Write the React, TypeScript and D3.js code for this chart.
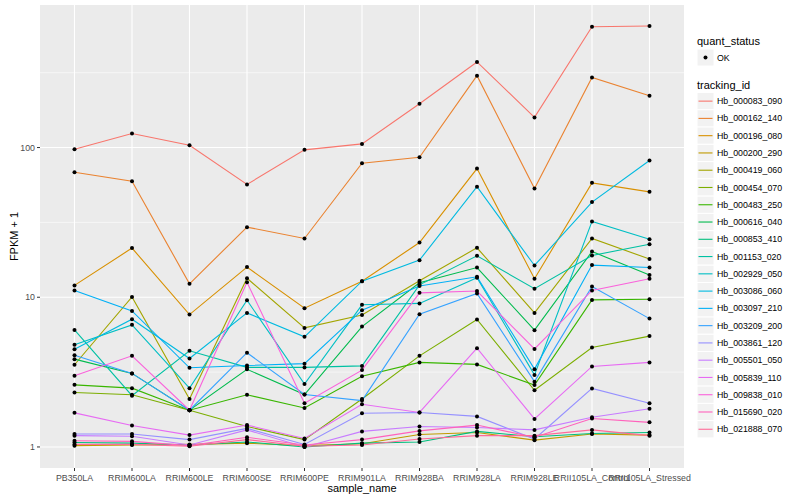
import * as d3 from "d3";
import React, { RefObject, useEffect, useRef } from "react";

const samples = [
  "PB350LA",
  "RRIM600LA",
  "RRIM600LE",
  "RRIM600SE",
  "RRIM600PE",
  "RRIM901LA",
  "RRIM928BA",
  "RRIM928LA",
  "RRIM928LE",
  "RRII105LA_Control",
  "RRII105LA_Stressed",
];

const trackingIds = [
  "Hb_000083_090",
  "Hb_000162_140",
  "Hb_000196_080",
  "Hb_000200_290",
  "Hb_000419_060",
  "Hb_000454_070",
  "Hb_000483_250",
  "Hb_000616_040",
  "Hb_000853_410",
  "Hb_001153_020",
  "Hb_002929_050",
  "Hb_003086_060",
  "Hb_003097_210",
  "Hb_003209_200",
  "Hb_003861_120",
  "Hb_005501_050",
  "Hb_005839_110",
  "Hb_009838_010",
  "Hb_015690_020",
  "Hb_021888_070",
];

// FPKM + 1, one array per tracking_id, in sample order
const hb000083 = [97.4, 124, 103.6, 56.7, 96.5, 105.8, 196, 373, 159, 641, 648];
const hb000162 = [68.4, 59.6, 12.3, 29.4, 24.7, 78.6, 86.2, 302, 53.3, 294, 222];
const hb000196 = [12.0, 21.3, 7.66, 15.9, 8.45, 12.8, 23.2, 72.4, 13.3, 58.1, 50.6];
const hb000200 = [1.02, 1.03, 1.04, 1.06, 1.02, 1.05, 1.21, 1.25, 1.11, 1.22, 1.2];
const hb000419 = [3.54, 10.05, 2.09, 13.4, 6.24, 7.62, 12.9, 21.4, 7.86, 24.7, 18.0];
const hb000454 = [2.31, 2.23, 1.76, 1.37, 1.12, 2.09, 4.06, 7.1, 2.39, 4.62, 5.5];
const hb000483 = [2.6, 2.47, 1.76, 2.23, 1.82, 2.97, 3.67, 3.56, 2.59, 9.6, 9.7];
const hb000616 = [3.86, 3.1, 1.76, 3.3, 2.24, 6.37, 12.5, 15.8, 6.03, 20.2, 14.1];
const hb000853 = [1.07, 1.06, 1.03, 1.08, 1.0, 1.06, 1.08, 1.27, 1.17, 1.23, 1.25];
const hb001153 = [6.05, 2.2, 4.39, 3.4, 3.4, 3.48, 12.1, 18.9, 11.4, 19.0, 22.6];
const hb002929 = [4.81, 6.54, 2.47, 9.55, 2.63, 8.9, 9.1, 13.5, 3.03, 32.1, 24.4];
const hb003086 = [4.5, 7.13, 3.9, 7.86, 5.44, 12.8, 17.7, 54.7, 16.3, 43.2, 81.9];
const hb003097 = [11.1, 8.1, 3.38, 3.5, 3.6, 8.2, 11.9, 13.7, 3.31, 16.4, 15.8];
const hb003209 = [4.1, 3.1, 1.76, 4.26, 2.24, 2.04, 7.7, 10.6, 2.73, 11.8, 7.2];
const hb003861 = [1.22, 1.22, 1.12, 1.33, 1.04, 1.68, 1.7, 1.6, 1.13, 2.46, 1.96];
const hb005501 = [1.19, 1.18, 1.03, 1.3, 1.0, 1.27, 1.37, 1.35, 1.3, 1.58, 1.8];
const hb005839 = [1.69, 1.39, 1.2, 1.4, 1.14, 1.93, 1.7, 4.57, 1.54, 3.45, 3.67];
const hb009838 = [2.99, 4.06, 1.76, 12.6, 1.96, 3.26, 10.7, 11.0, 4.52, 11.1, 13.3];
const hb015690 = [1.1, 1.09, 1.02, 1.16, 1.03, 1.12, 1.28, 1.4, 1.16, 1.55, 1.46];
const hb021888 = [1.04, 1.04, 1.01, 1.12, 1.01, 1.03, 1.13, 1.19, 1.19, 1.3, 1.19];

const seriesValues = [
  hb000083, hb000162, hb000196, hb000200, hb000419, hb000454, hb000483,
  hb000616, hb000853, hb001153, hb002929, hb003086, hb003097, hb003209,
  hb003861, hb005501, hb005839, hb009838, hb015690, hb021888,
];

const yTicks = [1, 10, 100];
const yMinor = [Math.sqrt(10), Math.sqrt(1000), Math.sqrt(100000)];

// R's hcl() (polar LUV) -> hex, the way ggplot builds its default hue palette
const hclHex = (h: number, c: number, l: number) => {
  const hr = (h * Math.PI) / 180;
  const U = c * Math.cos(hr);
  const V = c * Math.sin(hr);
  const Y = 100 * (l > 7.999592 ? Math.pow((l + 16) / 116, 3) : l / 903.3);
  const u = U / (13 * l) + 0.1978398;
  const v = V / (13 * l) + 0.4683363;
  const X = (9 * Y * u) / (4 * v);
  const Z = -X / 3 - 5 * Y + (3 * Y) / v;
  const gam = (t: number) =>
    t > 0.00304 ? 1.055 * Math.pow(t, 1 / 2.4) - 0.055 : 12.92 * t;
  const r = gam((3.240479 * X - 1.53715 * Y - 0.498535 * Z) / 100);
  const g = gam((-0.969256 * X + 1.875992 * Y + 0.041556 * Z) / 100);
  const b = gam((0.055648 * X - 0.204043 * Y + 1.057311 * Z) / 100);
  const cl = (t: number) => Math.round(Math.max(0, Math.min(1, t)) * 255);
  return d3.rgb(cl(r), cl(g), cl(b)).formatHex();
};

const huePal = (n: number) =>
  d3.range(n).map((i) => hclHex(15 + (360 / n) * i, 100, 65));

const Chart = ({ width = 800, height = 500 }) => {
  const d3Ref: RefObject<HTMLDivElement> = useRef(null);

  useEffect(() => {
    const root = d3.select(d3Ref.current);
    root.selectAll("*").remove();
    const svg = root
      .append("svg")
      .attr("width", width)
      .attr("height", height)
      .style("position", "absolute")
      .style("left", "0px")
      .style("top", "0px")
      .style("background", "#fff")
      .style("font-family", "'Liberation Sans', Arial, sans-serif");

    const panel = { left: 40, right: 684, top: 5, bottom: 468 };
    const colors = huePal(trackingIds.length);

    const allVals = seriesValues.flat();
    const [lo, hi] = d3.extent(allVals.map((v) => Math.log10(v))) as [number, number];
    const pad = (hi - lo) * 0.05;

    const x = d3
      .scalePoint<string>()
      .domain(samples)
      .range([panel.left, panel.right])
      .padding(0.6);
    const y = d3
      .scaleLog()
      .domain([Math.pow(10, lo - pad), Math.pow(10, hi + pad)])
      .range([panel.bottom, panel.top]);

    svg
      .append("rect")
      .attr("x", panel.left)
      .attr("y", panel.top)
      .attr("width", panel.right - panel.left)
      .attr("height", panel.bottom - panel.top)
      .attr("fill", "#EBEBEB");

    const grid = svg.append("g");
    grid
      .selectAll("line.minor")
      .data(yMinor)
      .enter()
      .append("line")
      .attr("x1", panel.left)
      .attr("x2", panel.right)
      .attr("y1", (d) => y(d))
      .attr("y2", (d) => y(d))
      .attr("stroke", "#fff")
      .attr("stroke-width", 0.55);
    grid
      .selectAll("line.major")
      .data(yTicks)
      .enter()
      .append("line")
      .attr("x1", panel.left)
      .attr("x2", panel.right)
      .attr("y1", (d) => y(d))
      .attr("y2", (d) => y(d))
      .attr("stroke", "#fff")
      .attr("stroke-width", 1.1);
    grid
      .selectAll("line.vert")
      .data(samples)
      .enter()
      .append("line")
      .attr("x1", (d) => x(d) as number)
      .attr("x2", (d) => x(d) as number)
      .attr("y1", panel.top)
      .attr("y2", panel.bottom)
      .attr("stroke", "#fff")
      .attr("stroke-width", 1.1);

    const line = d3
      .line<number>()
      .x((d, i) => x(samples[i]) as number)
      .y((d) => y(d));

    const g = svg.append("g");
    seriesValues.forEach((s, i) => {
      g.append("path")
        .datum(s)
        .attr("fill", "none")
        .attr("stroke", colors[i])
        .attr("stroke-width", 1.1)
        .attr("d", line);
    });
    seriesValues.forEach((s) => {
      g.selectAll(null)
        .data(s)
        .enter()
        .append("circle")
        .attr("cx", (d, k) => x(samples[k]) as number)
        .attr("cy", (d) => y(d))
        .attr("r", 2)
        .attr("fill", "#000");
    });

    // y axis
    const ya = svg.append("g");
    ya.selectAll("line")
      .data(yTicks)
      .enter()
      .append("line")
      .attr("x1", panel.left - 3)
      .attr("x2", panel.left)
      .attr("y1", (d) => y(d))
      .attr("y2", (d) => y(d))
      .attr("stroke", "#333")
      .attr("stroke-width", 1);
    ya.selectAll("text")
      .data(yTicks)
      .enter()
      .append("text")
      .attr("x", panel.left - 5)
      .attr("y", (d) => y(d))
      .attr("dy", "0.35em")
      .attr("text-anchor", "end")
      .attr("font-size", 8.8)
      .attr("fill", "#4D4D4D")
      .text((d) => String(d));

    // x axis
    const xa = svg.append("g");
    xa.selectAll("line")
      .data(samples)
      .enter()
      .append("line")
      .attr("x1", (d) => x(d) as number)
      .attr("x2", (d) => x(d) as number)
      .attr("y1", panel.bottom)
      .attr("y2", panel.bottom + 3)
      .attr("stroke", "#333")
      .attr("stroke-width", 1);
    xa.selectAll("text")
      .data(samples)
      .enter()
      .append("text")
      .attr("x", (d) => x(d) as number)
      .attr("y", panel.bottom + 13)
      .attr("text-anchor", "middle")
      .attr("font-size", 8.8)
      .attr("fill", "#4D4D4D")
      .text((d) => d);

    svg
      .append("text")
      .attr("x", (panel.left + panel.right) / 2)
      .attr("y", 492)
      .attr("text-anchor", "middle")
      .attr("font-size", 11)
      .text("sample_name");
    svg
      .append("text")
      .attr("transform", `translate(14, ${(panel.top + panel.bottom) / 2}) rotate(-90)`)
      .attr("dy", "0.35em")
      .attr("text-anchor", "middle")
      .attr("font-size", 11)
      .text("FPKM + 1");

    // legends
    const lg = svg.append("g").attr("transform", "translate(697, 0)");
    lg.append("text").attr("x", 0).attr("y", 45).attr("font-size", 11).text("quant_status");
    lg.append("rect")
      .attr("x", 0)
      .attr("y", 49)
      .attr("width", 17)
      .attr("height", 17)
      .attr("fill", "#F2F2F2")
      .attr("stroke", "#fff");
    lg.append("circle").attr("cx", 8.5).attr("cy", 57.5).attr("r", 2).attr("fill", "#000");
    lg.append("text")
      .attr("x", 20)
      .attr("y", 57.5)
      .attr("dy", "0.35em")
      .attr("font-size", 8.8)
      .text("OK");

    lg.append("text").attr("x", 0).attr("y", 89).attr("font-size", 11).text("tracking_id");
    const step = 17.27;
    const keys = lg
      .selectAll("g.key")
      .data(trackingIds)
      .enter()
      .append("g")
      .attr("transform", (d, i) => `translate(0, ${92.5 + i * step})`);
    keys
      .append("rect")
      .attr("width", 17)
      .attr("height", step)
      .attr("fill", "#F2F2F2")
      .attr("stroke", "#fff");
    keys
      .append("line")
      .attr("x1", 1.5)
      .attr("x2", 15.5)
      .attr("y1", step / 2)
      .attr("y2", step / 2)
      .attr("stroke", (d, i) => colors[i])
      .attr("stroke-width", 1.1);
    keys
      .append("text")
      .attr("x", 20)
      .attr("y", step / 2)
      .attr("dy", "0.35em")
      .attr("font-size", 8.8)
      .text((d) => d);
  }, [d3Ref]);

  return <div ref={d3Ref} />;
};

export default function App() {
  return <Chart width={800} height={500} />;
}
